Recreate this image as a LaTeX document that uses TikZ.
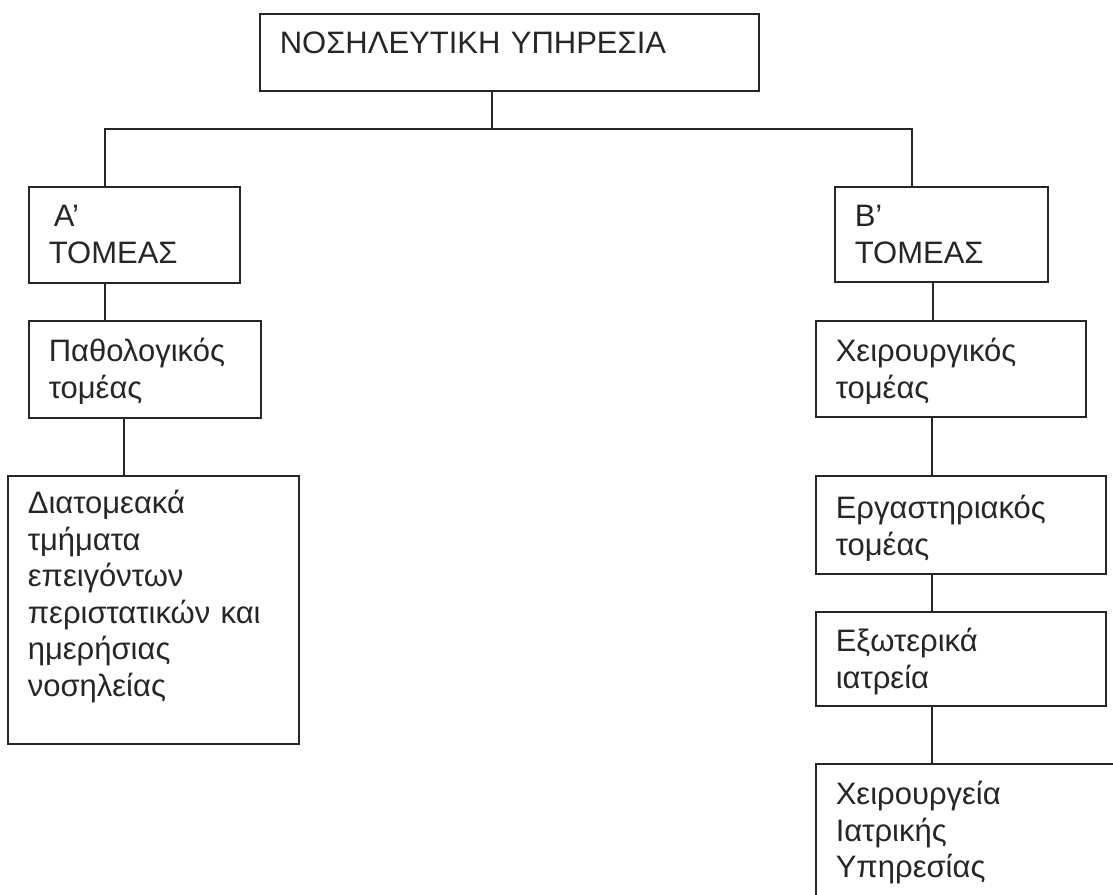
\documentclass[tikz,border=0pt]{standalone}
\usepackage{fontspec}
\setmainfont{Liberation Sans}
\definecolor{ink}{HTML}{262626}
\tikzstyle{box}=[draw=ink, text=ink, anchor=north west, inner xsep=20pt, inner ysep=0pt, align=left, font=\fontsize{31pt}{36.5pt}\selectfont]

\begin{document}
\begin{tikzpicture}[x=1pt, y=-1pt, line width=1.6pt]
\useasboundingbox (0, 0) rectangle (1113, 894);
\clip (0, 0) rectangle (1113, 894);
\node[box, text width=459pt, text height=40pt, text depth=37pt] at (259, 13) (top) {ΝΟΣΗΛΕΥΤΙΚΗ ΥΠΗΡΕΣΙΑ};
\node[box, text width=171pt, text height=40pt, text depth=56pt] at (28, 186) (secA) {\hspace*{5pt}Α’\\ΤΟΜΕΑΣ};
\node[box, text width=173pt, text height=40pt, text depth=55pt] at (834, 186) (secB) {Β’\\ΤΟΜΕΑΣ};
\node[box, text width=192pt, text height=41pt, text depth=56pt] at (28, 320) (patho) {Παθολογικός\\τομέας};
\node[box, text width=251pt, text height=38pt, text depth=230pt] at (7, 475) (diat) {Διατομεακά\\τμήματα\\επειγόντων\\περιστατικών και\\ημερήσιας\\νοσηλείας};
\node[box, text width=230pt, text height=41pt, text depth=55pt] at (815, 320) (cheir) {Χειρουργικός\\τομέας};
\node[box, text width=250pt, text height=43pt, text depth=55pt] at (815, 475) (ergast) {Εργαστηριακός\\τομέας};
\node[box, text width=250pt, text height=40pt, text depth=54pt] at (815, 611) (exot) {Εξωτερικά\\ιατρεία};
\node[box, text width=280pt, text height=41pt, text depth=120pt] at (815, 763) (chgeia) {Χειρουργεία\\Ιατρικής\\Υπηρεσίας};
% tree lines
\coordinate (bus) at (492, 129);
\draw[ink] (top.south -| bus) -- (bus);
\draw[ink] ([xshift=-29.5pt]secA.north) |- (bus) -| ([xshift=-29.5pt]secB.north);
\draw[ink] ([xshift=-29.5pt]secA.south) -- ([xshift=-29.5pt]secA.south |- patho.north);
\draw[ink] ([xshift=-21pt]patho.south) -- ([xshift=-21pt]patho.south |- diat.north);
\draw[ink] ([xshift=-8.5pt]secB.south) -- ([xshift=-8.5pt]secB.south |- cheir.north);
\draw[ink] ([xshift=-19pt]cheir.south) -- ([xshift=-19pt]cheir.south |- ergast.north);
\draw[ink] ([xshift=-29pt]ergast.south) -- ([xshift=-29pt]ergast.south |- exot.north);
\draw[ink] ([xshift=-29pt]exot.south) -- ([xshift=-29pt]exot.south |- chgeia.north);
\end{tikzpicture}
\end{document}
